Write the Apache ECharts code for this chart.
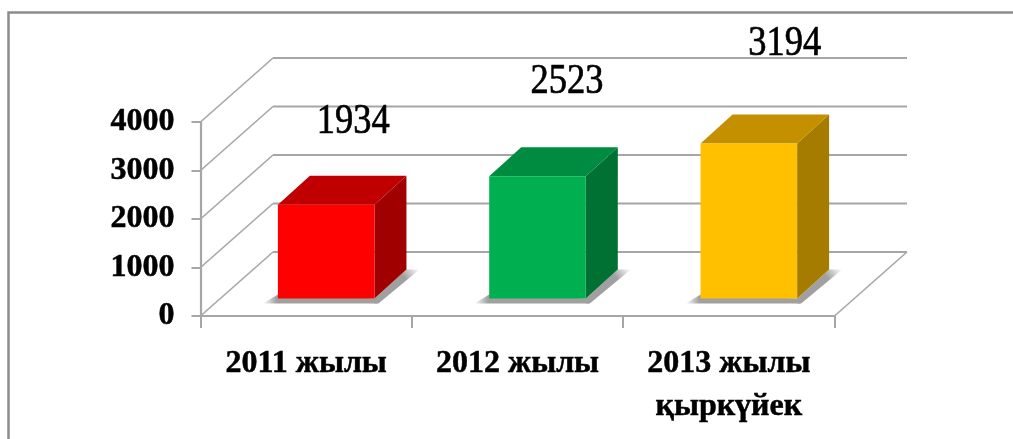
<!DOCTYPE html>
<html>
<head>
<meta charset="utf-8">
<style>
html,body{margin:0;padding:0;background:#fff;}
#chart{width:1013px;height:439px;}
</style>
<script src="https://cdn.jsdelivr.net/npm/echarts@6/dist/echarts.min.js"></script>
</head>
<body>
<div id="chart"></div>
<script>
const categories = ['2011 жылы', '2012 жылы', '2013 жылы\nқыркүйек'];
const values = [1934, 2523, 3194];
const yTicks = [0, 1000, 2000, 3000, 4000];

const frontColors = ['#FF0000', '#00B050', '#FFC000'];
const topColors = ['#C00000', '#008C40', '#C49000'];
const sideColors = ['#A00000', '#007033', '#A67C00'];

const FONT = '"Liberation Serif", "Times New Roman", serif';
const GRID_LINE = '#A6A6A6';
// 3d look: how far the back wall sits from the axis plane
const wallDx = 72.5, wallDy = -64;
// where the bar stands on the floor and how deep it is
const barDx = 20, barDy = -17.5, barDepthX = 32, barDepthY = -29;
// hand placed like in the original, the labels are not really on the bars
const labelShift = [[27, -83], [29.5, -94], [36, -99]];

function renderWalls(params, api) {
  const v = api.value(0);
  const p = api.coord([0, v]);
  const left = p[0] - api.size([1, 0])[0] / 2;
  const right = left + api.size([1, 0])[0] * categories.length;
  const y = p[1];
  const stroke = { stroke: GRID_LINE, lineWidth: 2.2, fill: null };
  const children = [
    { type: 'line', shape: { x1: left, y1: y, x2: left + wallDx, y2: y + wallDy }, style: { stroke: GRID_LINE, lineWidth: 1.6 } },
    { type: 'line', shape: { x1: left + wallDx, y1: y + wallDy, x2: right + wallDx, y2: y + wallDy }, style: stroke }
  ];
  if (v === 0) {
    children.push({ type: 'line', shape: { x1: right, y1: y, x2: right + wallDx, y2: y + wallDy }, style: { stroke: GRID_LINE, lineWidth: 1.6 } });
  }
  return { type: 'group', children: children };
}

function poly(points, fill) {
  return { type: 'polygon', shape: { points: points }, style: { fill: fill } };
}

function renderBar(params, api) {
  const i = params.dataIndex;
  const base = api.coord([api.value(0), 0]);
  const top = api.coord([api.value(0), api.value(1)]);
  const w = api.size([1, 0])[0] * 0.457;
  const x1 = base[0] + barDx - w / 2;
  const x2 = x1 + w;
  const yb = base[1] + barDy;
  const yt = top[1] + barDy;
  const dx = barDepthX, dy = barDepthY;
  const gray = '#A0A0A0';
  return {
    type: 'group',
    children: [
      // shadow on the floor
      poly([[x1 - 15, yb + 5], [x2 + 3, yb + 5], [x2 + 3, yb], [x1, yb - 4]], {
        type: 'linear', x: 0, y: 0, x2: 1, y2: 0,
        colorStops: [{ offset: 0, color: 'rgba(160,160,160,0)' }, { offset: 0.12, color: gray }, { offset: 1, color: gray }]
      }),
      poly([[x2, yb], [x2, yb + 5], [x2 + 4, yb + 5], [x2 + dx + 13, yb + dy], [x2 + dx, yb + dy]], {
        type: 'linear', x: 0, y: 1, x2: 1, y2: 0,
        colorStops: [{ offset: 0, color: gray }, { offset: 0.7, color: gray }, { offset: 1, color: 'rgba(160,160,160,0)' }]
      }),
      poly([[x2, yt], [x2 + dx, yt + dy], [x2 + dx, yb + dy], [x2, yb]], sideColors[i]),
      poly([[x1, yt], [x1 + dx, yt + dy], [x2 + dx, yt + dy], [x2, yt]], topColors[i]),
      poly([[x1, yt], [x2, yt], [x2, yb], [x1, yb]], frontColors[i])
    ]
  };
}

function renderValueLabel(params, api) {
  const i = params.dataIndex;
  const top = api.coord([api.value(0), api.value(1)]);
  return {
    type: 'text',
    x: top[0] + barDx + labelShift[i][0],
    y: top[1] + barDy + labelShift[i][1],
    scaleY: 1.13,
    style: {
      text: String(api.value(1)),
      font: '36.5px ' + FONT,
      fill: '#000',
      stroke: '#000',
      lineWidth: 0.6,
      align: 'center',
      verticalAlign: 'middle'
    }
  };
}

const chart = echarts.init(document.getElementById('chart'));
chart.setOption({
  animation: false,
  backgroundColor: '#fff',
  grid: { left: 200.5, right: 178.5, top: 122, bottom: 123 },
  xAxis: {
    type: 'category',
    data: categories,
    axisLine: { lineStyle: { color: GRID_LINE, width: 2.2 } },
    axisTick: { show: true, length: 12, lineStyle: { color: GRID_LINE, width: 2 } },
    axisLabel: {
      margin: 26,
      color: '#000',
      fontFamily: FONT,
      fontWeight: 'bold',
      fontSize: 32,
      lineHeight: 43,
      interval: 0,
      textBorderColor: '#000',
      textBorderWidth: 0.5
    }
  },
  yAxis: {
    type: 'value',
    min: 0,
    max: 4000,
    interval: 1000,
    axisLine: { show: true, lineStyle: { color: GRID_LINE, width: 2.2 } },
    axisTick: { show: true, length: 9, lineStyle: { color: GRID_LINE, width: 2 } },
    splitLine: { show: false },
    axisLabel: {
      margin: 26,
      color: '#000',
      fontFamily: FONT,
      fontWeight: 'bold',
      fontSize: 32,
      padding: [8, 0, 0, 0],
      textBorderColor: '#000',
      textBorderWidth: 0.5,
      formatter: function (v) { return String(v); }
    }
  },
  graphic: [
    { type: 'polyline', silent: true, shape: { points: [[8.5, 439], [8.5, 12.5], [1013, 12.5]] }, style: { stroke: '#8C8C8C', lineWidth: 2.5, fill: null } }
  ],
  series: [
    { type: 'custom', name: 'walls', renderItem: renderWalls, data: yTicks.map(function (v) { return [v]; }), encode: { y: 0 }, silent: true, z: 1 },
    { type: 'custom', name: 'bars', renderItem: renderBar, data: values.map(function (v, i) { return [i, v]; }), encode: { x: 0, y: 1 }, z: 2 },
    { type: 'custom', name: 'labels', renderItem: renderValueLabel, data: values.map(function (v, i) { return [i, v]; }), encode: { x: 0, y: 1 }, silent: true, z: 3 }
  ]
});
</script>
</body>
</html>
